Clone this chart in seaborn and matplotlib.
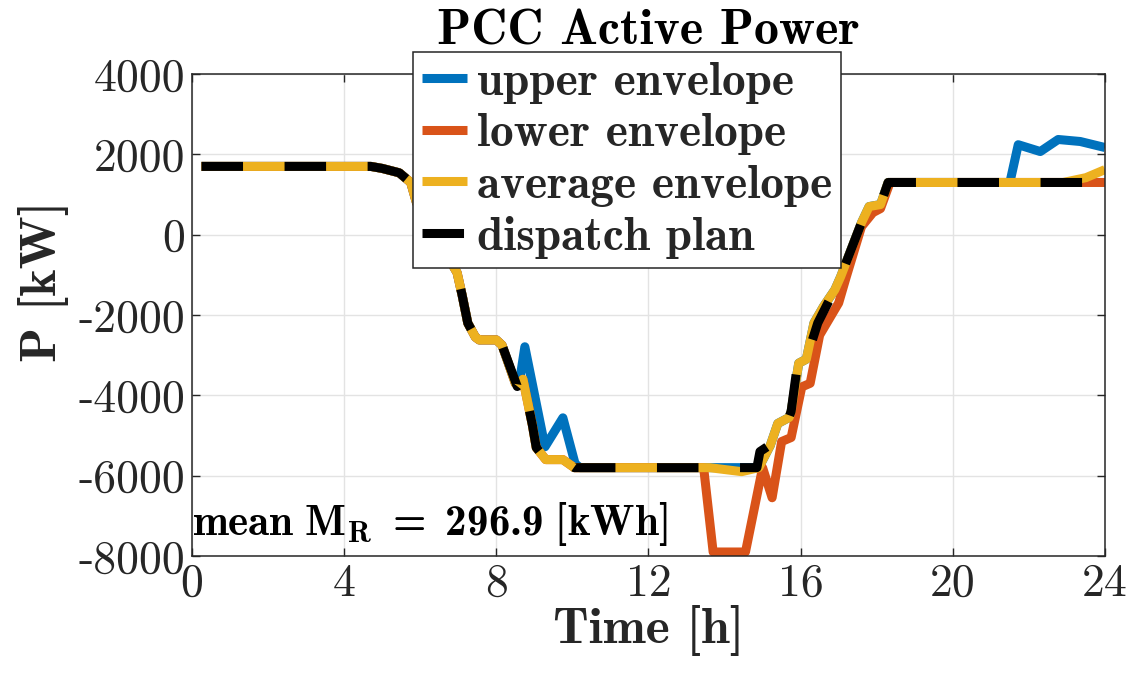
import numpy as np
import pandas as pd
import matplotlib
matplotlib.use("Agg")
import matplotlib.pyplot as plt
import seaborn as sns

# ---------------- data ----------------
avg_t = [0.25, 4.7, 5.0, 5.45, 5.75, 5.9, 6.97, 7.1, 7.25, 7.45, 7.55, 8.0, 8.15, 8.5,
         8.6, 8.7, 8.95, 9.05, 9.3, 9.75, 10.05, 13.6, 14.45, 14.9, 15.2, 15.4, 15.7,
         15.75, 15.95, 16.15, 16.35, 16.6, 16.9, 17.05, 17.6, 17.8, 18.1, 18.3, 22.9,
         23.5, 24.0]
avg_p = [1700, 1700, 1650, 1540, 1300, 800, -950, -1500, -2200, -2550, -2620, -2620, -2750, -3700,
         -3720, -3600, -4750, -5300, -5600, -5600, -5800, -5800, -5900, -5800, -5250, -4700, -4550,
         -4400, -3200, -3100, -2200, -1790, -1370, -1050, 300, 700, 750, 1300, 1300,
         1420, 1620]

disp_t = [0.25, 4.7, 5.0, 5.45, 5.75, 5.9, 6.97, 7.1, 7.25, 7.45, 7.55, 8.0, 8.15, 8.55,
          8.7, 8.95, 9.05, 9.3, 9.75, 10.05, 14.85, 14.93, 15.2, 15.4, 15.7,
          15.75, 15.92, 16.15, 16.45, 16.85, 17.05, 17.6, 17.8, 18.1, 18.3, 24.0]
disp_p = [1700, 1700, 1650, 1540, 1300, 800, -950, -1500, -2200, -2550, -2620, -2620, -2750, -3780,
          -3600, -4750, -5300, -5600, -5600, -5800, -5800, -5400, -5230, -4680, -4530,
          -4400, -3200, -3100, -2200, -1450, -1050, 300, 700, 750, 1300, 1300]

up_t = [0.25, 4.7, 5.0, 5.45, 5.75, 5.9, 6.97, 7.1, 7.25, 7.45, 7.55, 8.0, 8.15, 8.5,
        8.6, 8.75, 9.28, 9.75, 10.07, 10.2, 14.9, 15.2, 15.4, 15.7, 15.75, 15.95, 16.15,
        16.35, 16.6, 16.9, 17.05, 17.6, 17.8, 18.1, 18.3, 21.5, 21.72, 22.3, 22.77, 23.35, 24.0]
up_p = [1700, 1700, 1650, 1540, 1300, 800, -950, -1500, -2200, -2550, -2620, -2620, -2750, -3700,
        -3720, -2790, -5280, -4560, -5700, -5800, -5800, -5250, -4700, -4550, -4400, -3200, -3100,
        -2200, -1790, -1370, -1050, 300, 700, 750, 1300, 1300, 2240, 2070, 2370, 2320, 2170]

low_t = [0.25, 4.7, 5.0, 5.45, 5.75, 5.9, 6.97, 7.1, 7.25, 7.45, 7.55, 8.0, 8.15, 8.5,
         8.6, 8.7, 8.95, 9.05, 9.3, 9.75, 10.05, 13.45, 13.7, 14.55, 15.0, 15.25, 15.5, 15.75,
         16.03, 16.25, 16.5, 17.0, 17.2, 17.6, 17.9, 18.1, 18.35, 24.0]
low_p = [1700, 1700, 1650, 1540, 1300, 800, -950, -1500, -2200, -2550, -2620, -2620, -2750, -3700,
         -3720, -3600, -4750, -5300, -5600, -5600, -5800, -5800, -7900, -7900, -5800, -6550, -5150, -5050,
         -3790, -3700, -2500, -1700, -1050, 200, 550, 650, 1300, 1300]

x_ticks = [0, 4, 8, 12, 16, 20, 24]
y_ticks = [-8000, -6000, -4000, -2000, 0, 2000, 4000]
y_tick_labels = ["-8000", "-6000", "-4000", "-2000", "0", "2000", "4000"]
series_labels = ["upper envelope", "lower envelope", "average envelope", "dispatch plan"]
mean_mr = 296.9

# ---------------- style ----------------
sns.set_theme(style="white")
plt.rcParams["mathtext.fontset"] = "custom"
plt.rcParams["mathtext.rm"] = "cmb10"
plt.rcParams["mathtext.bf"] = "cmb10"
plt.rcParams["mathtext.it"] = "cmb10"
plt.rcParams["axes.unicode_minus"] = False

C_BLUE, C_RED, C_YEL, C_BLK = "#0072BD", "#D95319", "#EDB120", "#000000"
LW = 6.5
BOLD = "cmb10"

fig = plt.figure(figsize=(11.34, 6.76), dpi=100)
ax = fig.add_axes([0.1693, 0.1775, 0.9744 - 0.1693, 0.8905 - 0.1775])

sns.lineplot(x=up_t, y=up_p, ax=ax, color=C_BLUE, linewidth=LW, label=series_labels[0],
             solid_capstyle="butt", solid_joinstyle="round", sort=False)
sns.lineplot(x=low_t, y=low_p, ax=ax, color=C_RED, linewidth=LW, label=series_labels[1],
             solid_capstyle="butt", solid_joinstyle="round", sort=False)
sns.lineplot(x=avg_t, y=avg_p, ax=ax, color=C_YEL, linewidth=LW, label=series_labels[2],
             solid_capstyle="butt", solid_joinstyle="round", sort=False)
sns.lineplot(x=disp_t, y=disp_p, ax=ax, color=C_BLK, linewidth=LW, label=series_labels[3],
             linestyle=(0, (4.6, 4.6)), dash_capstyle="butt", dash_joinstyle="round", sort=False)

ax.set_xlim(0, 24)
ax.set_ylim(-8000, 4000)
ax.set_xticks(x_ticks)
ax.set_xticklabels([str(v) for v in x_ticks])
ax.set_yticks(y_ticks)
ax.set_yticklabels(y_tick_labels)
for t in ax.get_xticklabels() + ax.get_yticklabels():
    t.set_fontfamily("cmr10")
    t.set_fontsize(33)
    t.set_color("#262626")

ax.grid(True, color="#e3e3e3", linewidth=1.0)
ax.set_axisbelow(True)
for s in ax.spines.values():
    s.set_visible(True)
    s.set_color("#262626")
    s.set_linewidth(1.1)
ax.tick_params(direction="in", length=6, width=1.0, color="#262626",
               top=True, right=True, bottom=True, left=True, pad=5)

ax.set_title("PCC Active Power", fontsize=36, pad=21, color="#000000", fontfamily=BOLD)
ax.set_xlabel("Time [h]", fontsize=37, labelpad=0, fontfamily=BOLD, color="#262626")
ax.set_ylabel("P [kW]", fontsize=37, fontfamily=BOLD, color="#262626")
ax.yaxis.set_label_coords(-0.135, 0.57)

ax.text(0.0, -7470, r"$\mathrm{mean\ M_R\ =\ " + f"{mean_mr}" + r"\ [kWh]}$",
        fontsize=31, va="baseline", ha="left", color="#000000")

leg = ax.legend(loc="upper left", bbox_to_anchor=(0.364, 0.923), bbox_transform=fig.transFigure,
                prop={"family": BOLD, "size": 34}, handlelength=0.95, handletextpad=0.2,
                labelspacing=0.2, borderpad=0.2, borderaxespad=0, frameon=True, fancybox=False)
leg.get_frame().set_edgecolor("#262626")
leg.get_frame().set_linewidth(1.1)
leg.get_frame().set_alpha(1.0)

fig.savefig("out.png", dpi=100)
